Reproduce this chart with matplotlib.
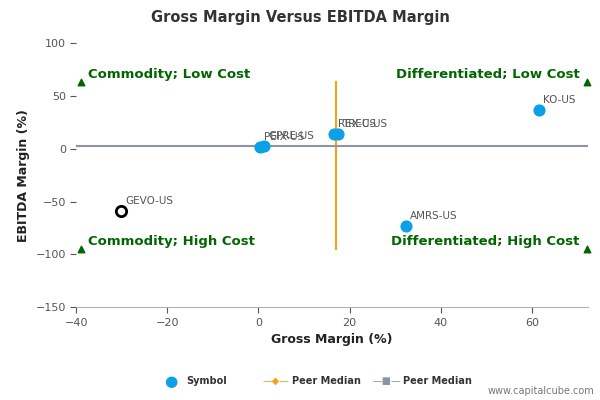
import matplotlib
matplotlib.use("Agg")
import matplotlib.pyplot as plt

names = ["GEVO-US", "AMRS-US", "KO-US", "PEIX-US", "GPRE-US", "REX-US", "TREC-US"]
gross = [-30.1, 32.3, 61.5, 0.4, 1.3, 16.5, 17.4]
ebitda = [-59.0, -73.5, 36.5, 1.5, 2.5, 14.0, 14.0]
highlight = ["GEVO-US"]
median_x = 16.9
median_y = 2.5

fig = plt.figure(figsize=(6, 4), dpi=100)
ax = fig.add_axes([0.127, 0.232, 0.853, 0.66])
xmin, xmax = -40, 72.3
ax.set_xlim(xmin, xmax)
ax.set_ylim(-150, 100)
ax.plot([median_x, median_x], [63, -95], color="#f7a11a", lw=1.5, zorder=2)
ax.plot([xmin, xmax], [median_y, median_y], color="#8c93a3", lw=1.5, zorder=2)
for n, gx, gy in zip(names, gross, ebitda):
    if n in highlight:
        ax.scatter(gx, gy, s=55, facecolor="white", edgecolor="black", lw=2, zorder=4)
    else:
        ax.scatter(gx, gy, s=60, color="#0ca0e8", zorder=3)
    ax.annotate(n, (gx, gy), xytext=(3, 5), textcoords="offset points", fontsize=7.5, color="#555555", zorder=5)
green = "#006600"
for tx, ty in [(-39, 63), (72, 63), (-39, -95), (72, -95)]:
    ax.scatter(tx, ty, marker="^", s=22, color=green, zorder=3, clip_on=False)
ax.text(-37.5, 67, "Commodity; Low Cost", color=green, fontsize=9.5, fontweight="bold")
ax.text(70.5, 67, "Differentiated; Low Cost", color=green, fontsize=9.5, fontweight="bold", ha="right")
ax.text(-37.5, -91, "Commodity; High Cost", color=green, fontsize=9.5, fontweight="bold")
ax.text(70.5, -91, "Differentiated; High Cost", color=green, fontsize=9.5, fontweight="bold", ha="right")
ax.set_xticks([-40, -20, 0, 20, 40, 60])
ax.set_yticks([-150, -100, -50, 0, 50, 100])
ax.tick_params(labelsize=8, colors="#555555", length=4)
for s in ["top", "right", "left"]:
    ax.spines[s].set_visible(False)
ax.spines["bottom"].set_color("#aab4c8")
ax.set_xlabel("Gross Margin (%)", fontsize=9, fontweight="bold", color="#222222")
ax.set_ylabel("EBITDA Margin (%)", fontsize=9, fontweight="bold", color="#222222")
fig.suptitle("Gross Margin Versus EBITDA Margin", y=0.975, fontsize=10.5, fontweight="bold", color="#333333")
# legend
fig.text(0.285, 0.047, "●", color="#0ca0e8", fontsize=11, va="center", ha="center")
fig.text(0.31, 0.047, "Symbol", fontsize=7, fontweight="bold", color="#333333", va="center")
fig.text(0.46, 0.047, "—◆—", color="#f7a11a", fontsize=7, va="center", ha="center")
fig.text(0.487, 0.047, "Peer Median", fontsize=7, fontweight="bold", color="#333333", va="center")
fig.text(0.645, 0.047, "—■—", color="#8c93a3", fontsize=7, va="center", ha="center")
fig.text(0.672, 0.047, "Peer Median", fontsize=7, fontweight="bold", color="#333333", va="center")
fig.text(0.99, 0.015, "www.capitalcube.com", fontsize=7, color="#777777", ha="right")
fig.savefig("out.png")
